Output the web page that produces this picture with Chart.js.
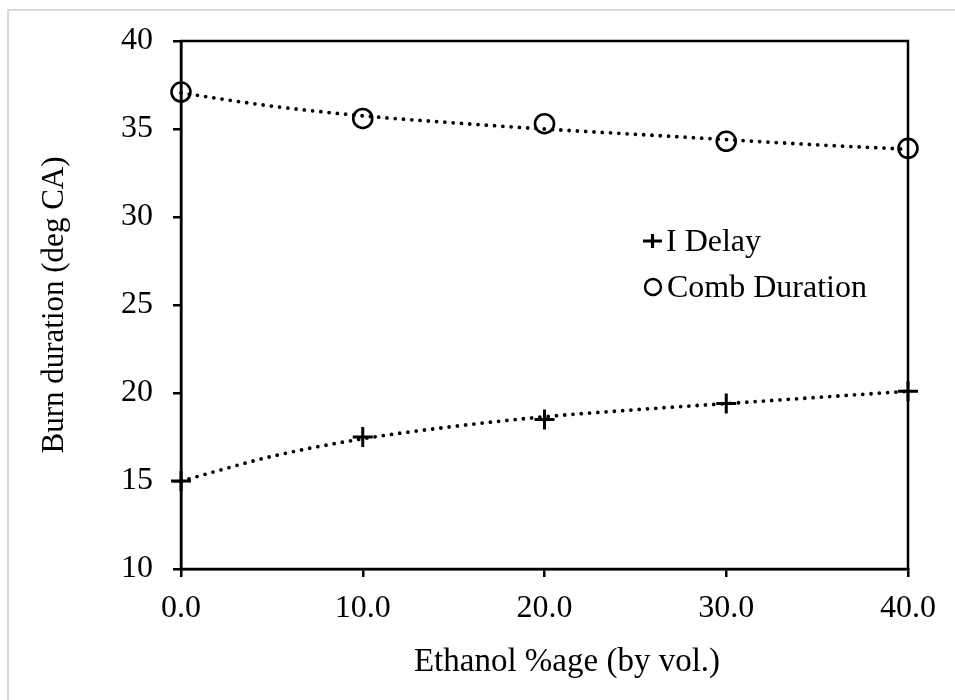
<!DOCTYPE html>
<html>
<head>
<meta charset="utf-8">
<script src="https://cdn.jsdelivr.net/npm/chart.js@4.4.1/dist/chart.umd.min.js"></script>
<style>
  html, body { margin: 0; padding: 0; background: #fff; overflow: hidden; }
  #wrap { position: relative; width: 955px; height: 700px; overflow: hidden; }
  #frame { position: absolute; left: 7px; top: 9px; width: 2000px; height: 2000px;
           border-left: 2px solid #d9d9d9; border-top: 2px solid #d9d9d9; }
  canvas { position: absolute; left: 0; top: 0; }
</style>
</head>
<body>
<div id="wrap">
  <div id="frame"></div>
  <canvas id="c" width="955" height="700"></canvas>
</div>
<script>
// ---- data ----
const ethanolPct = [0, 10, 20, 30, 40];
const iDelay = [15.0, 17.5, 18.5, 19.4, 20.1];
const combDuration = [37.1, 35.6, 35.3, 34.3, 33.9];
const trendX = [0, 5, 10, 15, 20, 25, 30, 35, 40];
const iDelayTrend = [15.0, 16.4, 17.4, 18.1, 18.65, 19.05, 19.4, 19.75, 20.1];
const combTrend = [37.05, 36.3, 35.75, 35.35, 35.0, 34.7, 34.4, 34.1, 33.85];
const yTicks = [10, 15, 20, 25, 30, 35, 40];
const xTicks = [0, 10, 20, 30, 40];
const seriesLabels = ['I Delay', 'Comb Duration'];
const xTitle = 'Ethanol %age (by vol.)';
const yTitle = 'Burn duration (deg CA)';

const FONT = "'Liberation Serif', 'Times New Roman', Times, serif";
const FS = 32;

const pts = (xs, ys) => xs.map((x, i) => ({ x: x, y: ys[i] }));

const boxPlugin = {
  id: 'box',
  beforeDatasetsDraw(chart) {
    const a = chart.chartArea, ctx = chart.ctx;
    ctx.save();
    ctx.strokeStyle = '#000';
    ctx.lineWidth = 2.5;
    ctx.strokeRect(a.left, a.top, a.right - a.left, a.bottom - a.top);
    ctx.restore();
  }
};

const legendPlugin = {
  id: 'customLegend',
  afterDraw(chart) {
    const ctx = chart.ctx;
    ctx.save();
    ctx.fillStyle = '#000';
    ctx.strokeStyle = '#000';
    ctx.textAlign = 'left';
    // x axis title (offset to the right as in the reference)
    ctx.font = '33px ' + FONT;
    ctx.textBaseline = 'middle';
    ctx.textAlign = 'center';
    ctx.fillText(xTitle, 567, 662);
    ctx.textAlign = 'left';
    ctx.font = FS + 'px ' + FONT;
    ctx.textBaseline = 'alphabetic';
    // I Delay
    ctx.lineWidth = 3.2;
    ctx.beginPath();
    ctx.moveTo(643, 241); ctx.lineTo(662, 241);
    ctx.moveTo(652.5, 234); ctx.lineTo(652.5, 248);
    ctx.stroke();
    ctx.fillText(seriesLabels[0], 666, 251);
    // Comb Duration
    ctx.lineWidth = 2.4;
    ctx.beginPath();
    ctx.arc(653, 287, 8, 0, Math.PI * 2);
    ctx.stroke();
    ctx.fillText(seriesLabels[1], 667, 297);
    ctx.restore();
  }
};

const trendStyle = {
  showLine: true, pointRadius: 0,
  borderColor: '#000', borderWidth: 3.8,
  borderDash: [0, 8.3], borderCapStyle: 'round',
  cubicInterpolationMode: 'monotone', fill: false, clip: false
};

new Chart(document.getElementById('c'), {
  type: 'scatter',
  data: {
    datasets: [
      Object.assign({ label: seriesLabels[0] + ' trend', data: pts(trendX, iDelayTrend) }, trendStyle),
      Object.assign({ label: seriesLabels[1] + ' trend', data: pts(trendX, combTrend) }, trendStyle),
      {
        label: seriesLabels[0],
        data: pts(ethanolPct, iDelay),
        pointStyle: 'cross', pointRadius: 10, pointBorderWidth: 3,
        borderColor: '#000', backgroundColor: '#000', showLine: false, clip: false
      },
      {
        label: seriesLabels[1],
        data: pts(ethanolPct, combDuration),
        pointStyle: 'circle', pointRadius: 9.5, pointBorderWidth: 2.6,
        borderColor: '#000', backgroundColor: 'rgba(0,0,0,0)', showLine: false, clip: false
      }
    ]
  },
  options: {
    responsive: false,
    animation: false,
    devicePixelRatio: 1,
    layout: { padding: { left: 32, right: 47, top: 41, bottom: 15 } },
    plugins: {
      legend: { display: false },
      tooltip: { enabled: false }
    },
    scales: {
      x: {
        type: 'linear', min: 0, max: 40,
        afterFit(s) { s.height = 116; },
        afterBuildTicks(s) { s.ticks = xTicks.map(v => ({ value: v })); },
        ticks: {
          color: '#000', font: { family: FONT, size: FS }, padding: 12,
          callback: v => Number(v).toFixed(1), maxRotation: 0
        },
        grid: { display: true, drawOnChartArea: false, drawTicks: true, tickLength: 8, color: '#000', lineWidth: 2.5 },
        border: { display: true, color: '#000', width: 2.5 },
        title: { display: false, text: xTitle }
      },
      y: {
        type: 'linear', min: 10, max: 40,
        afterFit(s) { s.width = 149; },
        afterBuildTicks(s) { s.ticks = yTicks.map(v => ({ value: v })); },
        ticks: { color: '#000', font: { family: FONT, size: FS }, padding: 20 },
        grid: { display: true, drawOnChartArea: false, drawTicks: true, tickLength: 8, color: '#000', lineWidth: 2.5 },
        border: { display: true, color: '#000', width: 2.5 },
        title: { display: true, text: yTitle, color: '#000', font: { family: FONT, size: 31 } }
      }
    }
  },
  plugins: [boxPlugin, legendPlugin]
});
</script>
</body>
</html>
